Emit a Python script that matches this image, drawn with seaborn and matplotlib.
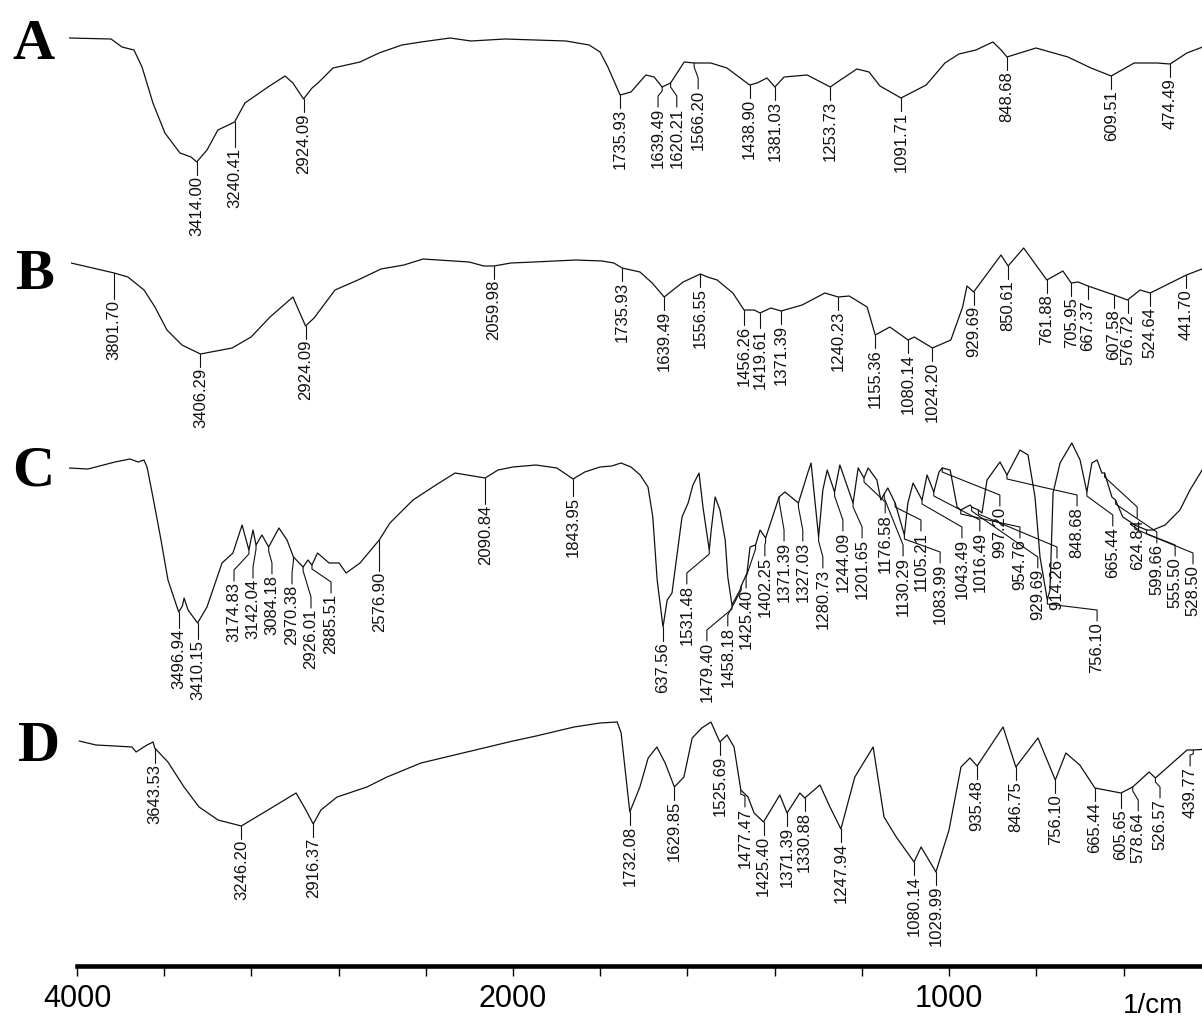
import numpy as np
import matplotlib
matplotlib.use("Agg")
import matplotlib.pyplot as plt
import seaborn as sns

# ---------------- data (wavenumber in cm-1, stacked transmittance in display units) -------------
A_wn = [4000, 3807, 3757, 3702, 3665, 3615, 3560, 3491, 3440, 3414.00, 3367, 3317, 3240.41, 3193, 3087,
        3009, 2973, 2924.09, 2885, 2858, 2789, 2665, 2578, 2473, 2385, 2252, 2156, 2000, 1860, 1807,
        1782, 1764, 1735.93, 1711, 1677, 1658, 1639.49, 1620.21, 1589, 1566.20, 1528, 1491, 1438.90, 1422,
        1399, 1381.03, 1360, 1307, 1253.73, 1241, 1193, 1165, 1140, 1091.71, 1034, 991, 959, 920, 881,
        862, 848.68, 782, 709, 656, 609.51, 557, 505, 474.49, 436, 400]
A_T = [38, 39, 47, 50, 67, 103, 133, 153, 157, 162, 150, 130, 122, 103, 87, 76, 83, 99, 88, 83,
       68, 62, 53, 45, 42, 38, 41, 39, 41, 45, 52, 67, 95, 92, 75, 77, 87, 83, 62, 63,
       63, 68, 85, 83, 78, 87, 77, 75, 87, 83, 69, 72, 86, 98, 85, 63, 54, 50, 42, 50,
       57, 48, 57, 68, 76, 63, 63, 64, 53, 47]

B_wn = [4000, 3801.70, 3739, 3665, 3615, 3560, 3491, 3406.29, 3261, 3174, 3087, 2982, 2924.09, 2885,
        2789, 2684, 2578, 2473, 2385, 2174, 2106, 2059.98, 1991, 1938, 1842, 1782, 1755, 1735.93, 1695,
        1667, 1639.49, 1596, 1556.55, 1540, 1518, 1482, 1456.26, 1433, 1419.61, 1395, 1371.39, 1323, 1271,
        1240.23, 1215, 1174, 1155.36, 1122, 1096, 1080.14, 1066, 1024.20, 982, 955, 945, 929.69, 867,
        850.61, 815, 761.88, 725, 705.95, 690, 667.37, 607.58, 576.72, 548, 524.64, 441.70, 400]
B_T = [263, 273, 277, 290, 307, 330, 345, 354, 348, 337, 317, 297, 326, 318, 290, 280, 269, 265, 259, 262,
       266, 266, 263, 262, 260, 261, 263, 268, 272, 283, 297, 282, 274, 277, 280, 293, 310, 310, 313, 308,
       311, 305, 293, 297, 296, 307, 335, 327, 335, 340, 337, 348, 340, 307, 286, 292, 255, 266, 248, 280,
       271, 283, 282, 286, 295, 300, 290, 293, 275, 268]

C_wn = [4000, 3913, 3789, 3720, 3683, 3656, 3642, 3615, 3578, 3546, 3496.94, 3480, 3472, 3454, 3410.15,
        3367, 3298, 3248, 3206, 3174.83, 3156, 3142.04, 3115, 3084.18, 3037, 3000, 2970.38, 2926.01, 2904,
        2885.51, 2860, 2807, 2761, 2729, 2665, 2576.90, 2528, 2422, 2317, 2229, 2090.84, 2032, 1982, 1929,
        1881, 1843.95, 1817, 1782, 1755, 1734, 1711, 1690, 1672, 1661, 1651, 1637.56, 1628, 1617, 1606,
        1594, 1580, 1569, 1555, 1546, 1531.48, 1527, 1518, 1507, 1495, 1489, 1479.40, 1461, 1458.18, 1445,
        1438, 1425.40, 1415, 1402.25, 1371.39, 1358, 1327.03, 1305, 1298, 1280.73, 1271, 1261, 1244.09,
        1232, 1201.65, 1190, 1176.58, 1167, 1147, 1138, 1130.29, 1122, 1105.21, 1083.99, 1076, 1064,
        1043.49, 1032, 1016.49, 1004.6, 997.20, 979, 963, 954.76, 933, 929.69, 914.26, 906, 894.5, 864.7,
        848.68, 818.8, 800.4, 784.4, 772.9, 756.10, 750, 743, 727, 700, 681, 665.44, 654, 642, 631, 624.84,
        608, 599.66, 583, 555.50, 528.50, 514, 486, 452, 429, 401]
C_T = [468, 469, 462, 459, 462, 460, 467, 497, 540, 580, 612, 606, 598, 610, 623,
       607, 563, 553, 525, 550, 530, 545, 535, 547, 528, 540, 557, 567, 560,
       565, 553, 563, 563, 573, 563, 540, 523, 500, 485, 473, 478, 470, 467, 465,
       468, 479, 472, 467, 466, 463, 467, 475, 487, 517, 580, 627, 600, 593, 557,
       517, 503, 485, 473, 507, 550, 530, 497, 510, 540, 577, 605, 590, 586, 573,
       547, 545, 530, 538, 497, 492, 503, 472, 463, 537, 490, 470, 492,
       465, 503, 468, 478, 468, 480, 500, 494, 488, 503, 535, 503, 483,
       500, 475, 492, 472, 468, 470, 507, 510, 505, 507, 510, 513, 480, 462,
       475, 450, 455, 497, 557, 600, 590, 493, 463, 443, 460, 492, 463, 460, 473, 473,
       497, 500, 517, 525, 530, 530, 525, 510, 490, 470]

D_wn = [3990, 3913, 3826, 3748, 3729, 3679, 3651, 3643.53, 3583, 3509, 3440, 3353, 3246.20, 3124, 2995,
        2950, 2916.37, 2881, 2807, 2670, 2578, 2422, 2211, 2000, 1947, 1860, 1800, 1761, 1752, 1732.08,
        1709, 1690, 1670, 1651, 1629.85, 1608, 1589, 1567, 1546, 1525.69, 1509, 1493, 1477.47, 1461, 1447,
        1425.40, 1388, 1371.39, 1342, 1330.88, 1296, 1273, 1247.94, 1216, 1174, 1149, 1121, 1080.14, 1064,
        1029.99, 1000, 972.5, 952, 935.48, 876, 846.75, 796, 756.10, 732, 700, 665.44, 605.65, 578.64, 541,
        526.57, 454, 439.77, 405]
D_T = [741, 745, 746, 747, 752, 745, 742, 748, 762, 787, 807, 820, 826, 810, 793, 810, 824, 810, 797, 787,
       777, 763, 752, 741, 736, 727, 723, 722, 733, 812, 787, 758, 747, 763, 787, 777, 738, 728, 722, 742,
       735, 747, 790, 797, 813, 822, 795, 813, 793, 798, 785, 807, 829, 777, 747, 817, 837, 862, 847, 872,
       830, 767, 758, 766, 727, 767, 738, 780, 753, 765, 788, 793, 787, 772, 778, 750, 750, 749]

# peak labels
A_peaks = ["3414.00", "3240.41", "2924.09", "1735.93", "1639.49", "1620.21", "1566.20", "1438.90",
           "1381.03", "1253.73", "1091.71", "848.68", "609.51", "474.49"]
B_peaks = ["3801.70", "3406.29", "2924.09", "2059.98", "1735.93", "1639.49", "1556.55", "1456.26",
           "1419.61", "1371.39", "1240.23", "1155.36", "1080.14", "1024.20", "929.69", "850.61", "761.88",
           "705.95", "667.37", "607.58", "576.72", "524.64", "441.70"]
D_peaks = ["3643.53", "3246.20", "2916.37", "1732.08", "1629.85", "1525.69", "1477.47", "1425.40",
           "1371.39", "1330.88", "1247.94", "1080.14", "1029.99", "935.48", "846.75", "756.10", "665.44",
           "605.65", "578.64", "526.57", "439.77"]
C_labels = ["3496.94", "3410.15", "3174.83", "3142.04", "3084.18", "2970.38", "2926.01", "2885.51",
            "2576.90", "2090.84", "1843.95", "637.56", "1531.48", "1479.40", "1458.18", "1425.40",
            "1402.25", "1371.39", "1327.03", "1280.73", "1244.09", "1201.65", "1176.58", "1130.29",
            "1105.21", "1083.99", "1043.49", "1016.49", "997.20", "954.76", "929.69", "914.26", "848.68",
            "756.10", "665.44", "624.84", "599.66", "555.50", "528.50"]
C_peaks = [3496.94, 3410.15, 3174.83, 3142.04, 3084.18, 2970.38, 2926.01, 2885.51, 2576.90, 2090.84,
           1843.95, 1637.56, 1531.48, 1479.40, 1458.18, 1425.40, 1402.25, 1371.39, 1327.03, 1280.73,
           1244.09, 1201.65, 1176.58, 1130.29, 1105.21, 1083.99, 1043.49, 1016.49, 997.20, 954.76, 929.69,
           914.26, 848.68, 756.10, 665.44, 624.84, 599.66, 555.50, 528.50]

# label placement (layout only)
C_label_x = [3496.94, 3410.15, 3243, 3156, 3069, 2977, 2890, 2798, 2576.90, 2090.84, 1843.95, 1637.56,
             1583, 1537, 1489, 1447, 1404, 1360, 1317, 1271, 1225, 1181, 1128, 1087, 1046, 1002, 952, 911,
             865, 819, 778, 734, 688, 642, 606, 550, 505, 463, 422]
C_label_y = [617, 628, 570, 567, 563, 573, 597, 582, 560, 493, 485, 630, 573, 630, 615, 577, 545, 530,
             530, 557, 520, 527, 502, 545, 520, 552, 527, 520, 495, 527, 557, 547, 495, 610, 515, 507,
             532, 545, 553]
A_label_x = {"1639.49": 1649, "1620.21": 1606, "1566.20": 1557}
A_label_y = {"3240.41": 136, "1639.49": 96, "1620.21": 96, "1566.20": 78}
B_label_x = {}
B_label_y = {"3801.70": 288, "1456.26": 314, "1419.61": 317, "1371.39": 313}
D_label_x = {"578.64": 566, "526.57": 516, "439.77": 447, "1477.47": 1468}
D_label_y = {"3643.53": 752, "1477.47": 796, "605.65": 797, "578.64": 800, "526.57": 787, "439.77": 755}

# ---------------- figure ----------------
sns.set_style("white")
plt.rcParams["font.family"] = ["Liberation Sans", "DejaVu Sans"]

W, H = 1202, 1017
fig = plt.figure(figsize=(W / 100, H / 100), dpi=100)


def fwd(w):
    w = np.asarray(w, dtype=float)
    return np.where(w >= 2000, 1 + (w - 2000) / 2000.0, 1 + (w - 2000) / 1000.0)


def inv(u):
    u = np.asarray(u, dtype=float)
    return np.where(u >= 1, 2000 + (u - 1) * 2000.0, 2000 + (u - 1) * 1000.0)


PX_PER_UNIT = 436.0
LINE = "#111111"


def spectrum_axes(offset_px):
    ax = fig.add_axes([(69 + offset_px) / W, 0, 2.6 * PX_PER_UNIT / W, 1])
    ax.patch.set_alpha(0)
    return ax


def finish(ax):
    ax.set_xscale("function", functions=(fwd, inv))
    ax.set_xlim(4000, 400)
    ax.set_ylim(H, 0)
    ax.axis("off")


def draw_labels(ax, wn, T, texts, peaks, lx, ly):
    wa = np.asarray(wn, float)[::-1]
    ta = np.asarray(T, float)[::-1]
    for t, p, x, y in zip(texts, peaks, lx, ly):
        yp = float(np.interp(p, wa, ta))
        if y is None:
            y = yp + 2
        if x == p:
            xs, ys = [p, p], [yp, y + 11]
        else:
            xs, ys = [p, p, x, x], [yp, yp + 4, y, y + 11]
        ax.plot(xs, ys, color=LINE, lw=0.8, clip_on=False)
        ax.text(x, y + 12, t, rotation=90, ha="center", va="top", fontsize=12,
                color="#111111", clip_on=False)


specs = [
    (A_wn, A_T, 0, A_peaks, A_label_x, A_label_y),
    (B_wn, B_T, 2, B_peaks, B_label_x, B_label_y),
    (D_wn, D_T, 8, D_peaks, D_label_x, D_label_y),
]
for wn, T, off, pk, lxd, lyd in specs:
    ax = spectrum_axes(off)
    sns.lineplot(x=wn, y=T, ax=ax, color=LINE, linewidth=0.9, estimator=None, sort=False, legend=False)
    finish(ax)
    vals = [float(s) for s in pk]
    lx = [lxd.get(s, v) for s, v in zip(pk, vals)]
    ly = [lyd.get(s, None) for s in pk]
    draw_labels(ax, wn, T, pk, vals, lx, ly)

axc = spectrum_axes(0)
sns.lineplot(x=C_wn, y=C_T, ax=axc, color=LINE, linewidth=0.9, estimator=None, sort=False, legend=False)
finish(axc)
draw_labels(axc, C_wn, C_T, C_labels, C_peaks, C_label_x, C_label_y)

# panel letters
for letter, xpx, base in [("A", 12, 59), ("B", 15, 289), ("C", 12, 485), ("D", 18, 761)]:
    fig.text(xpx / W, 1 - base / H, letter, ha="left", va="baseline", fontsize=42,
             family="Liberation Serif", weight="bold", color="black")

# bottom wavenumber axis
axb = fig.add_axes([77 / W, (H - 966) / H, 1125 / W, 1e-4])
axb.patch.set_alpha(0)
axb.set_xscale("function", functions=(fwd, inv))
axb.set_xlim(4000, 420)
axb.set_yticks([])
for s in ("top", "left", "right"):
    axb.spines[s].set_visible(False)
axb.spines["bottom"].set_linewidth(3.3)
axb.spines["bottom"].set_color("black")
axb.set_xticks([4000, 2000, 1000])
axb.set_xticklabels(["4000", "2000", "1000"])
axb.set_xticks([3600, 3200, 2800, 2400, 1800, 1600, 1400, 1200, 800, 600], minor=True)
axb.tick_params(axis="x", which="both", bottom=True, direction="out", length=7, width=1.0,
                color="black", pad=6, labelsize=22, labelcolor="black")
fig.text(1123 / W, 1 - 1013 / H, "1/cm", ha="left", va="baseline", fontsize=20, color="black")

fig.savefig("out.png", dpi=100)
